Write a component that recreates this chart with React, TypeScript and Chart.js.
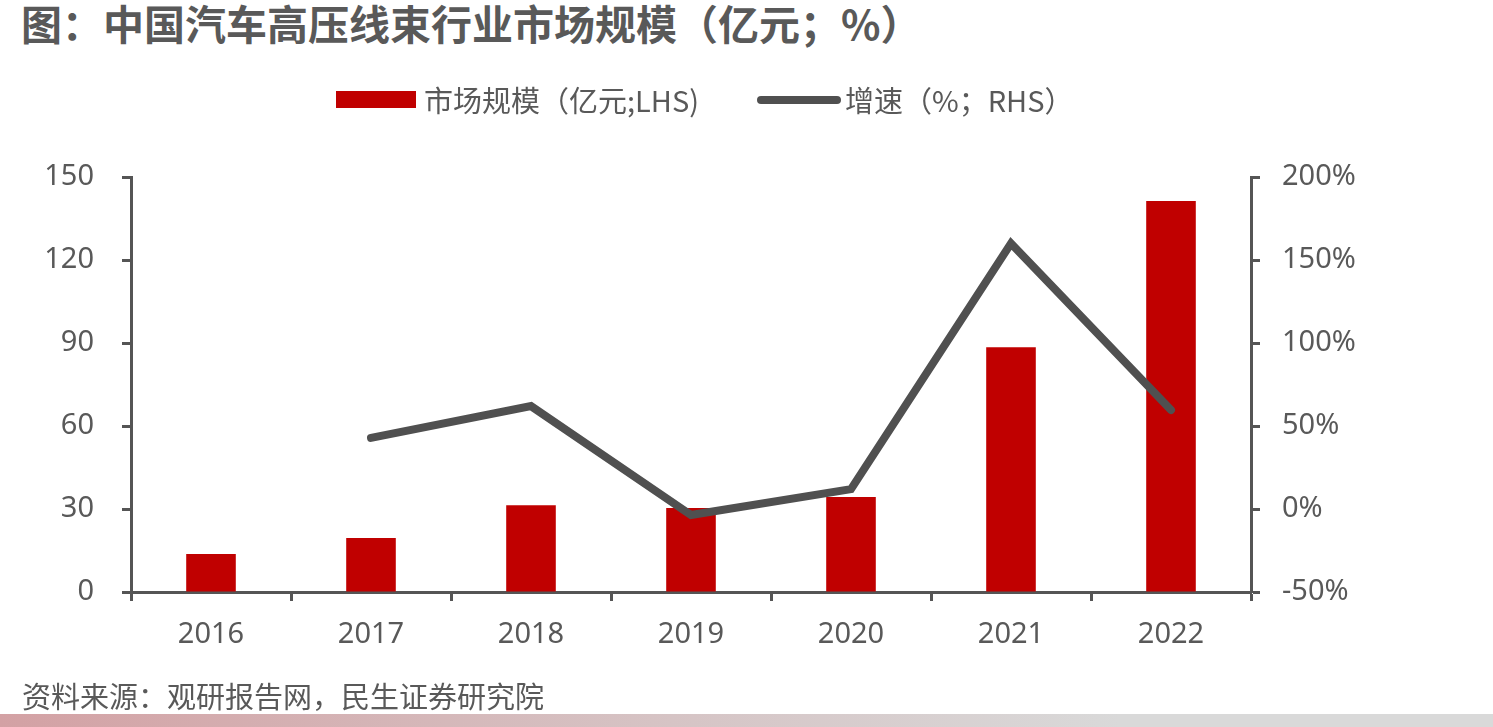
import React, { useEffect, useRef } from "react";
import { Chart, registerables } from "chart.js";

Chart.register(...registerables);

const years = ["2016", "2017", "2018", "2019", "2020", "2021", "2022"];
const marketSize = [13.7, 19.5, 31.4, 30.4, 34.3, 88.5, 141.3];
const growthRate = [null, 42.8, 62.0, -3.6, 12.0, 160.0, 59.6];
const leftTicks = [0, 30, 60, 90, 120, 150];
const rightTicks = [-50, 0, 50, 100, 150, 200];

const RED = "#C00000";
const LINE = "#505050";
const AXIS = "#555555";
const TEXT = "#595959";
const FONT = "'Noto Sans', 'Noto Sans CJK SC', sans-serif";
const CJK = "'Noto Sans CJK SC', 'Noto Sans', sans-serif";

export default function App() {
  const canvasRef = useRef<HTMLCanvasElement | null>(null);

  useEffect(() => {
    document.body.style.margin = "0";
    const canvas = canvasRef.current;
    if (!canvas) return;
    const chart = new Chart(canvas, {
      type: "bar",
      data: {
        labels: years,
        datasets: [
          {
            type: "line",
            label: "增速（%；RHS）",
            data: growthRate,
            yAxisID: "y1",
            borderColor: LINE,
            backgroundColor: LINE,
            borderWidth: 8,
            borderCapStyle: "round",
            borderJoinStyle: "miter",
            pointRadius: 0,
            tension: 0,
            spanGaps: false,
            order: 0,
          },
          {
            type: "bar",
            label: "市场规模（亿元;LHS)",
            data: marketSize,
            yAxisID: "y",
            backgroundColor: RED,
            borderWidth: 0,
            categoryPercentage: 1,
            barPercentage: 0.31,
            order: 1,
          },
        ],
      },
      options: {
        responsive: false,
        animation: false,
        maintainAspectRatio: false,
        layout: { padding: { top: 177, left: 0, right: 0, bottom: 0 } },
        plugins: {
          legend: { display: false },
          tooltip: { enabled: false },
          title: { display: false },
        },
        scales: {
          x: {
            offset: true,
            grid: {
              offset: true,
              drawOnChartArea: false,
              drawTicks: true,
              tickLength: 9,
              tickWidth: 3,
              tickColor: AXIS,
            },
            border: { display: true, color: AXIS, width: 3 },
            ticks: {
              color: TEXT,
              font: { family: FONT, size: 29 },
              padding: 16,
              maxRotation: 0,
            },
            afterFit: (scale: any) => {
              scale.height = 135;
            },
          },
          y: {
            position: "left",
            min: 0,
            max: 150,
            afterBuildTicks: (scale: any) => {
              scale.ticks = leftTicks.map((v) => ({ value: v }));
            },
            grid: {
              drawOnChartArea: false,
              drawTicks: true,
              tickLength: 9,
              tickWidth: 3,
              tickColor: AXIS,
            },
            border: { display: true, color: AXIS, width: 3 },
            ticks: {
              color: TEXT,
              font: { family: FONT, size: 29 },
              padding: 28,
            },
            afterFit: (scale: any) => {
              scale.width = 131;
            },
          },
          y1: {
            position: "right",
            min: -50,
            max: 200,
            afterBuildTicks: (scale: any) => {
              scale.ticks = rightTicks.map((v) => ({ value: v }));
            },
            grid: {
              drawOnChartArea: false,
              drawTicks: true,
              tickLength: 9,
              tickWidth: 3,
              tickColor: AXIS,
            },
            border: { display: true, color: AXIS, width: 3 },
            ticks: {
              color: TEXT,
              font: { family: FONT, size: 29 },
              padding: 22,
              callback: (v: any) => `${v}%`,
            },
            afterFit: (scale: any) => {
              scale.width = 1493 - 1251;
            },
          },
        },
      },
    });
    return () => chart.destroy();
  }, []);

  return (
    <div
      style={{
        position: "absolute",
        left: 0,
        top: 0,
        width: 1493,
        height: 727,
        overflow: "hidden",
        background: "#fff",
      }}
    >
      <div
        style={{
          position: "absolute",
          left: 21,
          top: -3,
          height: 50,
          lineHeight: "50px",
          fontFamily: CJK,
          fontWeight: 700,
          fontSize: 41,
          color: TEXT,
          whiteSpace: "nowrap",
        }}
      >
        图：中国汽车高压线束行业市场规模（亿元；%）
      </div>

      <canvas
        ref={canvasRef}
        width={1493}
        height={727}
        style={{ position: "absolute", left: 0, top: 0 }}
      />

      {/* legend */}
      <div style={{ position: "absolute", left: 336, top: 91, width: 80, height: 17, background: RED }} />
      <div
        style={{
          position: "absolute",
          left: 424,
          top: 79,
          height: 40,
          lineHeight: "40px",
          fontFamily: CJK,
          fontSize: 29,
          color: TEXT,
          whiteSpace: "nowrap",
        }}
      >
        市场规模（亿元;LHS)
      </div>
      <div
        style={{
          position: "absolute",
          left: 757,
          top: 96,
          width: 84,
          height: 8,
          borderRadius: 4,
          background: LINE,
        }}
      />
      <div
        style={{
          position: "absolute",
          left: 845,
          top: 79,
          height: 40,
          lineHeight: "40px",
          fontFamily: CJK,
          fontSize: 29,
          color: TEXT,
          whiteSpace: "nowrap",
        }}
      >
        增速（%；RHS）
      </div>

      <div
        style={{
          position: "absolute",
          left: 22,
          top: 677,
          height: 36,
          lineHeight: "36px",
          fontFamily: CJK,
          fontSize: 29,
          color: TEXT,
          whiteSpace: "nowrap",
        }}
      >
        资料来源：观研报告网，民生证券研究院
      </div>
      <div
        style={{
          position: "absolute",
          left: 0,
          top: 714,
          width: 1493,
          height: 13,
          background: "linear-gradient(to right, #D3A1A4 0%, #D6C4C5 45%, #D9D9D9 75%, #D9D9D9 100%)",
        }}
      />
    </div>
  );
}
